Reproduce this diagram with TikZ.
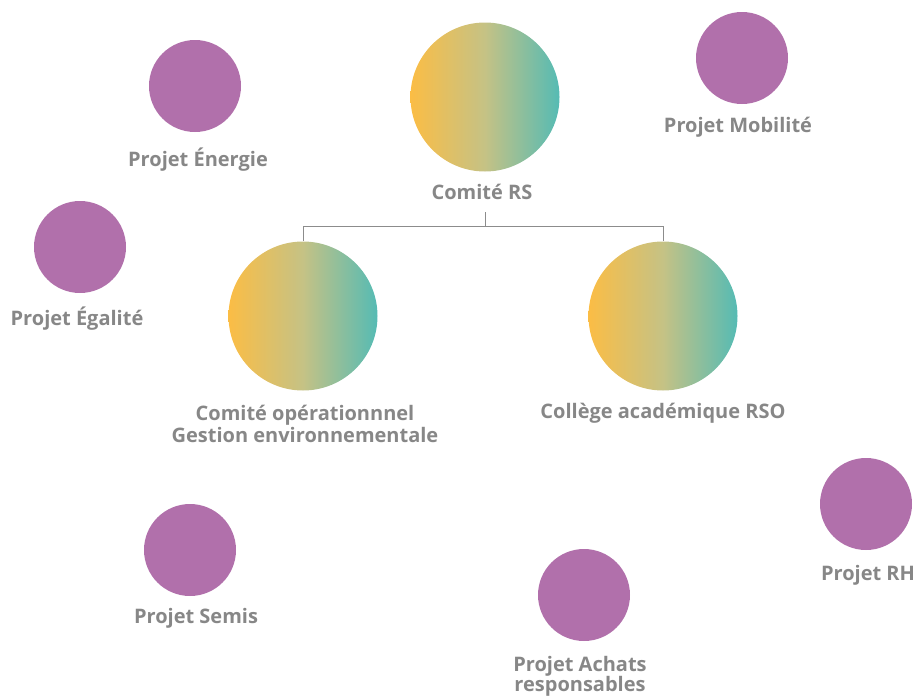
\documentclass[tikz,border=0pt]{standalone}
\usepackage{fontspec}
\setmainfont{Open Sans}
\usetikzlibrary{positioning}

\definecolor{projpurple}{HTML}{B170AB}
\definecolor{gradsun}{HTML}{FBBD45}
\definecolor{gradmid}{HTML}{C5C285}
\definecolor{gradsea}{HTML}{55BBB4}
\definecolor{labelgray}{HTML}{878787}
\definecolor{linegray}{HTML}{8C8C8C}

\pgfdeclarehorizontalshading{sunsea}{100bp}{color(0bp)=(gradsun); color(25bp)=(gradsun);
  color(50bp)=(gradmid); color(75bp)=(gradsea); color(100bp)=(gradsea)}

\tikzset{
  committee/.style={circle, minimum size=149pt, inner sep=0pt,
    shading=sunsea, draw=none},
  project/.style={circle, minimum size=92pt, inner sep=0pt, fill=projpurple},
  caption/.style={font=\bfseries\fontsize{20}{22}\selectfont, text=labelgray,
    align=center, inner sep=0pt},
  link/.style={draw=linegray, line width=0.8pt}
}

\begin{document}
\begin{tikzpicture}[x=1pt,y=-1pt]
  \useasboundingbox (0,0) rectangle (921,699);

  % committees
  \node(rs)[committee] at (485,97) {};
  \node(rsl)[caption] at (482,192) {Comité RS};
  \node(op)[committee] at (303,316) {};
  \node(opl)[caption] at (305,424) {Comité opérationnnel\\Gestion environnementale};
  \node(col)[committee] at (663,316) {};
  \node(coll)[caption] at (663,413) {Collège académique RSO};

  % projects
  \node(nrg)[project] at (195,86) {};
  \node(nrgl)[caption] at (198,160) {Projet Énergie};
  \node(mob)[project] at (742,58) {};
  \node(mobl)[caption] at (738,127) {Projet Mobilité};
  \node(ega)[project] at (80,247) {};
  \node(egal)[caption] at (77,319) {Projet Égalité};
  \node(rh)[project] at (866,504) {};
  \node(rhl)[caption] at (868,575) {Projet RH};
  \node(sem)[project] at (190,550) {};
  \node(seml)[caption] at (196,618) {Projet Semis};
  \node(ach)[project] at (584,595) {};
  \node(achl)[caption, font=\bfseries\fontsize{20}{20}\selectfont] at (580,676) {Projet Achats\\responsables};

  % tree connector
  \coordinate (rsfoot) at (485,212);
  \coordinate (bus) at (485,226);
  \draw[link] (rsfoot) -- (bus) -| (op.north);
  \draw[link] (bus) -| (col.north);
\end{tikzpicture}
\end{document}
